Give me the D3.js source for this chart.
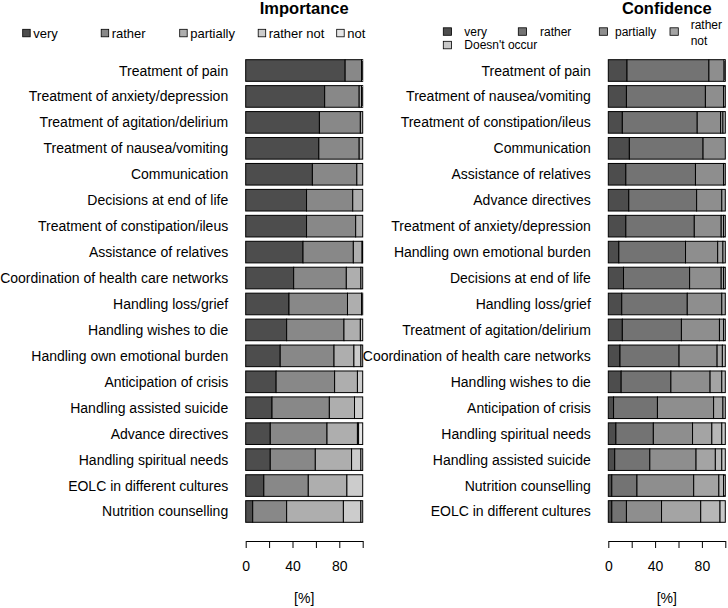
<!DOCTYPE html>
<html><head><meta charset="utf-8">
<script src="https://cdn.jsdelivr.net/npm/d3@7"></script>
<style>body{margin:0;background:#fff}svg{display:block}text{font-family:"Liberation Sans",Arial,sans-serif}</style>
</head><body><div id="chart"></div>
<script>
// ---------- DATA ----------
const impCategories = ["Treatment of pain","Treatment of anxiety/depression","Treatment of agitation/delirium","Treatment of nausea/vomiting","Communication","Decisions at end of life","Treatment of constipation/ileus","Assistance of relatives","Coordination of health care networks","Handling loss/grief","Handling wishes to die","Handling own emotional burden","Anticipation of crisis","Handling assisted suicide","Advance directives","Handling spiritual needs","EOLC in different cultures","Nutrition counselling"];
const impLevels = ["very","rather","partially","rather not","not"];
const impVery       = [85, 67.5, 63, 62.5, 57, 52, 52, 49, 41, 37, 35, 29.5, 26, 22.5, 21, 21, 15.5, 6];
const impRather     = [14, 29.5, 35, 34.5, 38, 39.5, 42, 43, 45, 50, 49, 46, 50, 49, 48.5, 38.5, 38, 29];
const impPartially  = [1, 2, 2, 3, 5, 8.5, 6, 7.5, 12.5, 12, 14, 17, 19.5, 21.5, 26, 31, 33, 48.5];
const impRatherNot  = [0, 1, 0, 0, 0, 0, 0, 0.5, 1.5, 1, 2, 6, 4.5, 7, 1, 8, 13.5, 15];
const impNot        = [0, 0, 0, 0, 0, 0, 0, 0, 0, 0, 0, 1.5, 0, 0, 3.5, 1.5, 0, 1.5];

const confCategories = ["Treatment of pain","Treatment of nausea/vomiting","Treatment of constipation/ileus","Communication","Assistance of relatives","Advance directives","Treatment of anxiety/depression","Handling own emotional burden","Decisions at end of life","Handling loss/grief","Treatment of agitation/delirium","Coordination of health care networks","Handling wishes to die","Anticipation of crisis","Handling spiritual needs","Handling assisted suicide","Nutrition counselling","EOLC in different cultures"];
const confLevels = ["very","rather","partially","rather not","not","Doesn't occur"];
const confLegendLabels = ["very","rather","partially","rather\nnot","Doesn't occur"];
const confVery      = [16, 15.5, 12, 18, 15, 17.5, 15, 9, 13, 11.5, 12, 10, 11, 4.5, 6.5, 5.5, 3, 3];
const confRather    = [70, 67.5, 64, 63, 59.5, 58, 58.5, 57, 56.5, 56, 50.5, 50.5, 42.5, 37.5, 32, 30, 21.5, 12.5];
const confPartially = [13, 15.5, 20, 19, 24, 21.5, 23, 27.5, 27, 29.5, 32.5, 32.5, 33.5, 48, 33.5, 39.5, 48.5, 30];
const confRatherNot = [1, 1.5, 2, 0, 1.5, 3, 2, 4.5, 2, 3, 3.5, 4.5, 10, 8, 16.5, 16.5, 21.5, 33.5];
const confNot       = [0, 0, 2, 0, 0, 0, 1.5, 2, 1.5, 0, 1.5, 2.5, 3, 2, 8.5, 5.5, 4, 16.5];
const confNoOccur   = [0, 0, 0, 0, 0, 0, 0, 0, 0, 0, 0, 0, 0, 0, 3, 3, 1.5, 4.5];

const tickValues = [0, 20, 40, 60, 80, 100];
const tickLabels = ["0", "", "40", "", "80", ""];

// ---------- STYLE ----------
const impColors  = ["#4d4d4d","#888888","#aeaeae","#cccccc","#e6e6e6"];
const confColors = ["#4d4d4d","#737373","#8e8e8e","#a4a4a4","#b7b7b7","#c8c8c8"];
const confLegendColors = [confColors[0],confColors[1],confColors[2],confColors[3],confColors[5]];

const W = 728, H = 608;
const svg = d3.select("#chart").append("svg").attr("width", W).attr("height", H);

function buildRows(cats, seriesArr, levels) {
  return cats.map((c, i) => {
    const o = {cat: c};
    levels.forEach((l, j) => o[l] = seriesArr[j][i]);
    return o;
  });
}

function panel(opts) {
  const rows = buildRows(opts.cats, opts.series, opts.levels);
  const stack = d3.stack().keys(opts.levels)(rows);
  const x = d3.scaleLinear().domain([0, 100]).range(opts.xr);
  const y = d3.scaleBand().domain(opts.cats).range([59.7, 522.3]).paddingInner(0.2/1.2).paddingOuter(0);
  const color = d3.scaleOrdinal().domain(opts.levels).range(opts.colors);
  const g = svg.append("g");

  g.selectAll("g.layer").data(stack).join("g").attr("class","layer")
    .attr("fill", d => color(d.key))
    .selectAll("rect").data(d => d).join("rect")
    .attr("x", d => x(d[0])).attr("y", d => y(d.data.cat))
    .attr("width", d => Math.max(0, x(d[1]) - x(d[0])))
    .attr("height", y.bandwidth())
    .attr("stroke", d => (d[1]-d[0]) > 0 ? "#000" : "none").attr("stroke-width", 1);

  // category labels
  g.selectAll("text.cat").data(opts.cats).join("text").attr("class","cat")
    .attr("x", x(0) - 17.5).attr("y", d => y(d) + y.bandwidth()/2)
    .attr("text-anchor","end").attr("dominant-baseline","central")
    .attr("font-size", 14).attr("fill","#000").text(d => d);

  // axis
  const ax = d3.axisBottom(x).tickValues(tickValues)
    .tickFormat((d, i) => tickLabels[i]).tickSize(7).tickSizeOuter(0).tickPadding(13);
  const axg = g.append("g").attr("transform", "translate(0,541)").call(ax);
  axg.selectAll("path,line").attr("stroke","#000");
  axg.selectAll("text").attr("font-size", 14).attr("font-family","Liberation Sans, Arial, sans-serif").attr("fill","#000");

  const cx = (opts.xr[0] + opts.xr[1]) / 2;
  g.append("text").attr("x", cx).attr("y", 603).attr("text-anchor","middle")
    .attr("font-size", 14).text("[%]");
  g.append("text").attr("x", cx).attr("y", 14).attr("text-anchor","middle")
    .attr("font-size", 16.5).attr("font-weight","bold").text(opts.title);
}

panel({cats: impCategories, levels: impLevels,
  series: [impVery, impRather, impPartially, impRatherNot, impNot],
  colors: impColors, xr: [245.7, 362.7], title: "Importance"});
panel({cats: confCategories, levels: confLevels,
  series: [confVery, confRather, confPartially, confRatherNot, confNot, confNoOccur],
  colors: confColors, xr: [608.3, 725.3], title: "Confidence"});

// legends
const lg1 = svg.append("g");
impLevels.forEach((l, i) => {
  const sx = 22.7 + i * 78.5;
  lg1.append("rect").attr("x", sx).attr("y", 29.3).attr("width", 7.5).attr("height", 7.5)
    .attr("fill", impColors[i]).attr("stroke", "#000").attr("stroke-width", 0.8);
  lg1.append("text").attr("x", sx + 10.5).attr("y", 33.2).attr("dominant-baseline","central")
    .attr("font-size", 13).text(l);
});

const lg2 = svg.append("g");
const confLegPos = [[443.3, 31.5, 464.3], [518.3, 31.5, 540], [599.3, 31.5, 615], [670, 31.5, 690.7], [443.3, 45, 464.3]];
confLegendLabels.forEach((l, i) => {
  const [sx, cy, tx] = confLegPos[i];
  lg2.append("rect").attr("x", sx).attr("y", cy - 3.7).attr("width", 8.3).attr("height", 7.5)
    .attr("fill", confLegendColors[i]).attr("stroke", "#000").attr("stroke-width", 0.8);
  const parts = l.split("\n");
  parts.forEach((p, k) => {
    const yy = parts.length === 1 ? cy : (k === 0 ? 24.5 : 40.5);
    lg2.append("text").attr("x", tx).attr("y", yy).attr("dominant-baseline","central")
      .attr("font-size", 12).text(p);
  });
});
</script></body></html>
